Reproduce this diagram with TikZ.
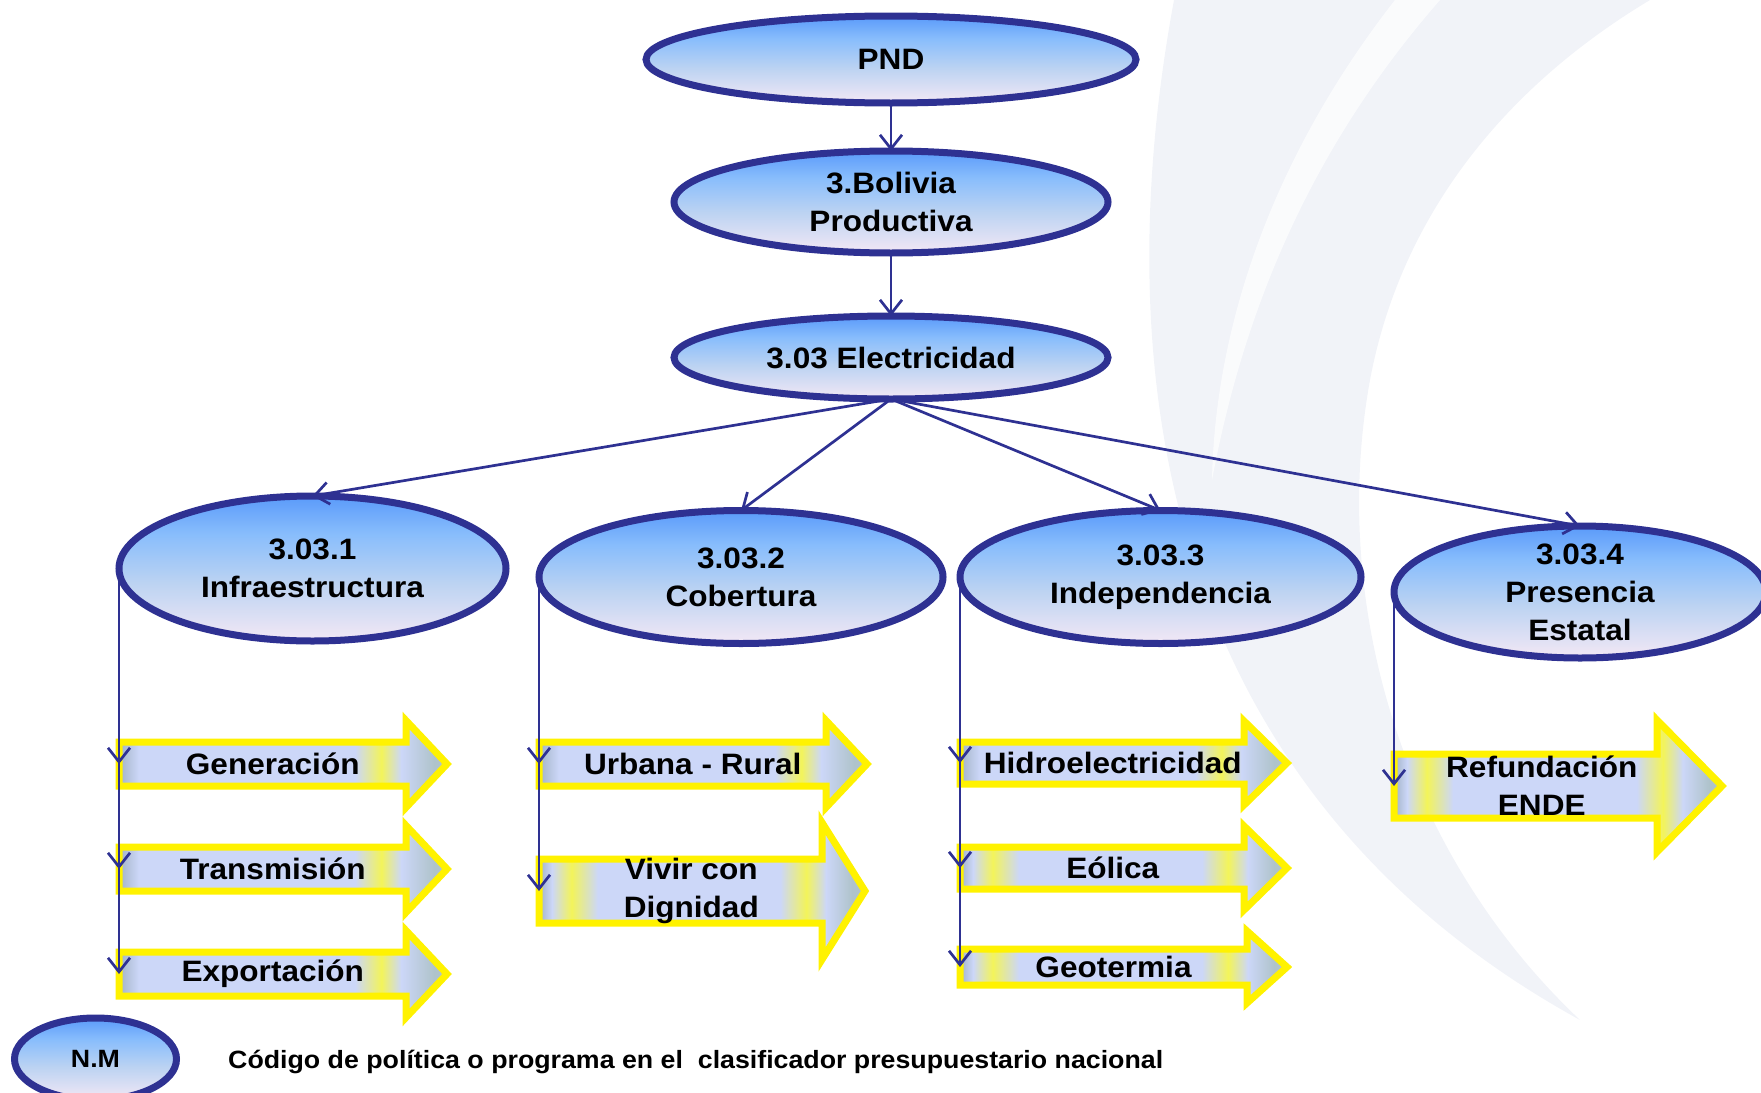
\documentclass[tikz,border=0pt]{standalone}
\usepackage{fontspec}
\setmainfont{Liberation Sans}[FakeStretch=1.07]
\usetikzlibrary{shapes.geometric,arrows.meta}

\definecolor{linkblue}{HTML}{2E3192}
\definecolor{ellTop}{HTML}{5A9AFA}
\definecolor{ellMid}{HTML}{88BDFC}
\definecolor{ellLow}{HTML}{BCD3F2}
\definecolor{ellBot}{HTML}{F3E8F5}
\definecolor{barGrey}{HTML}{A2B3C6}
\definecolor{barLav}{HTML}{CCD7F8}
\definecolor{barYel}{HTML}{F3F45A}
\definecolor{barTip}{HTML}{AFC3CB}
\definecolor{swooshA}{HTML}{F1F3F8}

\pgfdeclareverticalshading{ellshade}{100bp}{color(0bp)=(ellBot); color(25bp)=(ellBot); color(45bp)=(ellLow); color(62bp)=(ellMid); color(75bp)=(ellTop); color(100bp)=(ellTop)}
\pgfdeclarehorizontalshading{barA}{100bp}{color(0bp)=(barGrey); color(25bp)=(barGrey); color(28bp)=(barLav); color(61bp)=(barLav); color(65bp)=(barYel); color(68bp)=(barLav); color(73bp)=(barTip); color(100bp)=(barTip)}
\pgfdeclarehorizontalshading{barB}{100bp}{color(0bp)=(barGrey); color(25bp)=(barGrey); color(27bp)=(barLav); color(30bp)=(barYel); color(34bp)=(barLav); color(62bp)=(barLav); color(66bp)=(barYel); color(69bp)=(barLav); color(73bp)=(barTip); color(100bp)=(barTip)}

\newcommand\diagfont{\fontsize{29.5}{38}\selectfont\bfseries}
\newcommand\notefont{\fontsize{25}{30}\selectfont\bfseries}

% name, shading, x, y (left end of body), body length, body height, head height, head length, text
\newcommand\bararrow[9]{%
  \path[bar,shading=#2] (#3,#4) ++(0,-#6/2) -- ++(#5,0) -- ++(0,{(#6-#7)/2}) -- ++(#8,{#7/2}) -- ++(-#8,{#7/2}) -- ++(0,{(#6-#7)/2}) -- ++(-#5,0) -- cycle;
  \node[bartext,anchor=west,minimum width={#5+#8/2},minimum height=#6] (#1) at (#3,#4) {#9};}

\begin{document}
\begin{tikzpicture}[x=1pt, y=-1pt]
  \tikzset{ell/.style={ellipse, draw=linkblue, line width=7pt, shading=ellshade, inner sep=0pt, outer sep=0pt, align=center, font=\diagfont}, bar/.style={draw=yellow, line width=7pt}, bartext/.style={inner sep=0pt, outer sep=0pt, align=center, font=\diagfont}, link/.style={draw=linkblue, line width=2.7pt, -{Straight Barb[length=14pt,width=22pt]}}}
  \useasboundingbox (0,0) rectangle (1761,1092);
  % background swoosh
  \fill[swooshA] (1174,0) .. controls (1100,400) and (1180,800) .. (1580,1020) .. controls (1400,850) and (1330,600) .. (1370,380) .. controls (1400,220) and (1500,90) .. (1650,0) -- cycle;
  \fill[white, opacity=0.7] (1395,0) .. controls (1270,160) and (1215,330) .. (1212,480) .. controls (1240,330) and (1300,160) .. (1440,0) -- cycle;
  % ellipses
  \node[ell, minimum width=490, minimum height=87] (pnd) at (891,59.5) {PND};
  \node[ell, minimum width=434, minimum height=102] (bol) at (891,202) {3.Bolivia\\Productiva};
  \node[ell, minimum width=434, minimum height=83] (elec) at (891,357.5) {3.03 Electricidad};
  \node[ell, minimum width=387, minimum height=145] (infra) at (312.5,568.5) {3.03.1\\Infraestructura};
  \node[ell, minimum width=404, minimum height=133] (cober) at (741,577) {3.03.2\\Cobertura};
  \node[ell, minimum width=401, minimum height=133] (indep) at (1160.5,577) {3.03.3\\Independencia};
  \node[ell, minimum width=372, minimum height=132, inner ysep=-12pt] (pres) at (1580,592) {3.03.4\\Presencia\\Estatal};
  \node[ell, minimum width=162, minimum height=82, font=\notefont] (nm) at (95.5,1059) {N.M};
  \node[anchor=west, inner sep=0pt, font=\notefont] (legend) at (228,1062) {Código de política o programa en el~ clasificador presupuestario nacional};
  % block arrows
  \bararrow{gen}{barA}{119}{764}{287}{44}{87}{41}{Generación}
  \bararrow{trans}{barA}{119}{869}{287}{44}{87}{41}{Transmisión}
  \bararrow{expo}{barA}{119}{974}{287}{44}{87}{41}{Exportación}
  \bararrow{urb}{barA}{539}{764}{287}{44}{87}{41}{Urbana - Rural}
  \bararrow{viv}{barB}{539}{891}{283}{64}{137}{43}{Vivir con\\Dignidad}
  \bararrow{hid}{barA}{960}{763}{284}{42}{84}{43}{Hidroelectricidad}
  \bararrow{eol}{barB}{960}{868}{284}{42}{84}{43}{Eólica}
  \bararrow{geo}{barB}{960}{967}{287}{36}{72}{40}{Geotermia}
  \bararrow{ref}{barB}{1394}{786}{263}{64}{132}{65}{Refundación\\ENDE}
  % connectors
  \draw[link] (pnd) -- (bol);
  \draw[link] (bol) -- (elec);
  \draw[link] (elec.south) -- (infra.north);
  \draw[link] (elec.south) -- (cober.north);
  \draw[link] (elec.south) -- (indep.north);
  \draw[link] (elec.south) -- (pres.north);
  \draw[link] (infra.west) -- (infra.west |- gen.west);
  \draw[link] (infra.west) -- (infra.west |- trans.west);
  \draw[link] (infra.west) -- (infra.west |- expo.west);
  \draw[link] (cober.west) -- (cober.west |- urb.west);
  \draw[link] (cober.west) -- (cober.west |- viv.west);
  \draw[link] (indep.west) -- (indep.west |- hid.west);
  \draw[link] (indep.west) -- (indep.west |- eol.west);
  \draw[link] (indep.west) -- (indep.west |- geo.west);
  \draw[link] (pres.west) -- (pres.west |- ref.west);
\end{tikzpicture}
\end{document}
